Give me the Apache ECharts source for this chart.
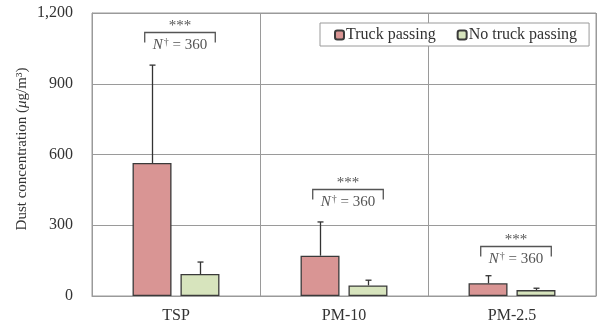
<!DOCTYPE html>
<html><head><meta charset="utf-8">
<script src="https://cdn.jsdelivr.net/npm/echarts@6/dist/echarts.min.js"></script>
<style>html,body{margin:0;padding:0;background:#fff}#c{width:598px;height:325px}</style>
</head><body><div id="c"></div>
<script>
const categories = ['TSP', 'PM-10', 'PM-2.5'];
const truckMean = [564, 171, 54];
const truckErrTop = [979, 314, 86];
const noTruckMean = [93, 45, 25];
const noTruckErrTop = [144, 67, 33];
const bracketTop = [1120, 454, 212];
const sigLabel = ['***', '***', '***'];
const nLabel = ['360', '360', '360'];
const yTicks = [0, 300, 600, 900, 1200];
const yTitleParts = ['Dust concentration (', 'μ', 'g/m³)'];

const BAR_W = 0.232, BAR_GAP = 0.23;
const serif = '"Liberation Serif", "Times New Roman", serif';

function errRender(sign) {
  return function (params, api) {
    const ci = api.value(0);
    const mean = api.coord([ci, api.value(1)]);
    const top = api.coord([ci, api.value(2)]);
    const band = api.size([1, 0])[0];
    const bw = band * BAR_W;
    const off = sign * (bw + bw * BAR_GAP) / 2;
    const x = Math.round(mean[0] + off) + 0.5;
    return {
      type: 'group',
      children: [
        {type: 'line', shape: {x1: x, y1: mean[1], x2: x, y2: top[1]}, style: {stroke: '#333', lineWidth: 1.3}},
        {type: 'line', shape: {x1: x - 3, y1: top[1], x2: x + 3, y2: top[1]}, style: {stroke: '#333', lineWidth: 1.3}}
      ]
    };
  };
}

const errTruck = categories.map((c, i) => [i, truckMean[i], truckErrTop[i]]);
const errNo = categories.map((c, i) => [i, noTruckMean[i], noTruckErrTop[i]]);
const brackets = categories.map((c, i) => [i, bracketTop[i], sigLabel[i], nLabel[i]]);

const chart = echarts.init(document.getElementById('c'));
chart.setOption({
  animation: false,
  grid: {left: 92, top: 13, right: 2, bottom: 29, show: true, borderColor: '#9a9a9a', borderWidth: 1},
  graphic: [{
    type: 'text', x: 22, y: 149, rotation: Math.PI / 2,
    style: {
      text: '{n|' + yTitleParts[0] + '}{i|' + yTitleParts[1] + '}{n|' + yTitleParts[2] + '}',
      align: 'center', verticalAlign: 'middle',
      rich: {
        n: {fontFamily: serif, fontSize: 15, fill: '#333'},
        i: {fontFamily: serif, fontSize: 15, fontStyle: 'italic', fill: '#333'}
      },
      fontFamily: serif, fontSize: 15, fill: '#333'
    }
  }],
  legend: {
    data: ['Truck passing', 'No truck passing'],
    left: 320, top: 23,
    padding: [4, 12, 3, 14],
    backgroundColor: '#fff', borderColor: '#9a9a9a', borderWidth: 1,
    itemWidth: 9, itemHeight: 9, itemGap: 21,
    textStyle: {fontFamily: serif, fontSize: 16, color: '#333', padding: [0, 0, 0, -3]}
  },
  xAxis: {
    type: 'category', data: categories,
    axisLine: {lineStyle: {color: '#9a9a9a'}},
    axisTick: {show: false},
    axisLabel: {fontFamily: serif, fontSize: 16, color: '#333', margin: 12},
    splitLine: {show: true, lineStyle: {color: '#9a9a9a'}}
  },
  yAxis: {
    type: 'value', min: 0, max: 1200, interval: 300,
    axisLine: {show: true, lineStyle: {color: '#9a9a9a'}},
    axisTick: {show: false},
    axisLabel: {fontFamily: serif, fontSize: 16, color: '#333', margin: 19,
      formatter: v => yTicks.includes(v) ? v.toLocaleString('en-US') : ''},
    splitLine: {lineStyle: {color: '#9a9a9a'}}
  },
  series: [
    {name: 'Truck passing', type: 'bar', data: truckMean, barWidth: (BAR_W * 100) + '%', barGap: (BAR_GAP * 100) + '%',
      itemStyle: {color: '#d99594', borderColor: '#3a3a3a', borderWidth: 1.3}},
    {name: 'No truck passing', type: 'bar', data: noTruckMean, barWidth: (BAR_W * 100) + '%',
      itemStyle: {color: '#d7e4bd', borderColor: '#3a3a3a', borderWidth: 1.3}},
    {type: 'custom', data: errTruck, renderItem: errRender(-1), z: 5, encode: {x: 0, y: [1, 2]}},
    {type: 'custom', data: errNo, renderItem: errRender(1), z: 5, encode: {x: 0, y: [1, 2]}},
    {type: 'custom', data: brackets, z: 6, encode: {x: 0, y: 1},
      renderItem: function (params, api) {
        const p = api.coord([api.value(0), api.value(1)]);
        const band = api.size([1, 0])[0];
        const cx = p[0] + 4, hw = band * 0.21, y = Math.round(p[1]) + 0.5;
        return {type: 'group', children: [
          {type: 'polyline', shape: {points: [[cx - hw, y + 10], [cx - hw, y], [cx + hw, y], [cx + hw, y + 10]]},
            style: {stroke: '#555', lineWidth: 1.3, fill: null}},
          {type: 'text', x: cx, y: y + 1, style: {text: api.value(2), fontFamily: serif, fontSize: 15, fill: '#555', align: 'center', verticalAlign: 'bottom'}},
          {type: 'text', x: cx, y: y + 13, style: {
            text: '{i|N}{s|†} = ' + api.value(3), align: 'center', verticalAlign: 'middle',
            rich: {
              i: {fontFamily: serif, fontStyle: 'italic', fontSize: 15, fill: '#555'},
              s: {fontFamily: serif, fontSize: 10, fill: '#555', padding: [0, 0, 7, 1]}
            },
            fontFamily: serif, fontSize: 15, fill: '#555'}}
        ]};
      }}
  ]
});
</script></body></html>
